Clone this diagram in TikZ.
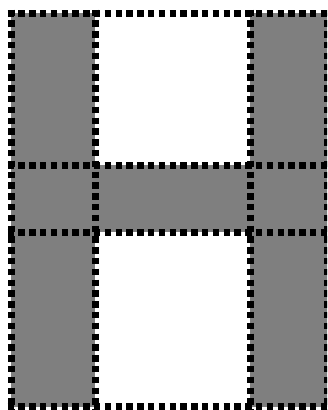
\documentclass[tikz,border=0pt]{standalone}
\usepackage{tikz}
\definecolor{cellgray}{HTML}{7F7F7F}
\tikzset{
  gridline/.style={line width=7pt, dash pattern=on 6.5pt off 4.3pt, black},
  graycell/.style={fill=cellgray}
}
\begin{document}
\begin{tikzpicture}[x=1pt,y=-1pt]
\useasboundingbox (0,0) rectangle (327,410);
\begin{scope}
\clip (0,0) rectangle (327,410);
% gray cells
\fill[graycell] (11,13) rectangle (95,406.5);
\fill[graycell] (250,13) rectangle (327.5,406.5);
\fill[graycell] (95,165) rectangle (250,232);
% horizontal lines
\foreach \y in {13,165,232,406.5}
  \draw[gridline] (7.5,\y) -- (331,\y);
% vertical lines
\foreach \x in {11,95,250,327.5}
  \draw[gridline] (\x,9.5) -- (\x,410);
\end{scope}
\end{tikzpicture}
\end{document}
